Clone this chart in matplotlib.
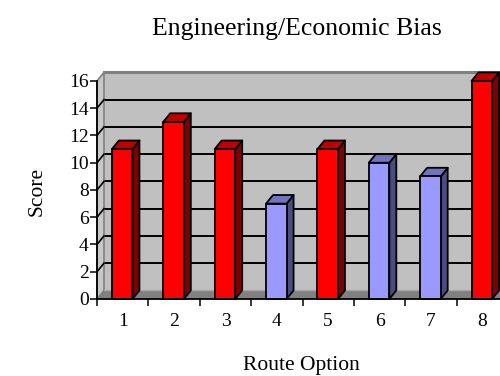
import matplotlib
matplotlib.use("Agg")
import matplotlib.pyplot as plt
from matplotlib.patches import Polygon

# Chart data
route_options = ["1", "2", "3", "4", "5", "6", "7", "8"]
scores = [11, 13, 11, 7, 11, 10, 9, 16]
bias_group = ["eng", "eng", "eng", "econ", "eng", "econ", "econ", "eng"]
y_ticks = [0, 2, 4, 6, 8, 10, 12, 14, 16]

# colour sets: (front, side, top)
palette = {
    "eng": ("#FF0000", "#800000", "#C00000"),
    "econ": ("#9999FF", "#4C4C80", "#7373C0"),
}

plt.rcParams["font.family"] = ["Liberation Serif", "DejaVu Serif"]

fig = plt.figure(figsize=(5.0, 3.76), dpi=100)
ax = fig.add_axes([0.194, 0.2048, 0.822, 0.5798])
ymax = 16
ax.set_xlim(0, len(scores))
ax.set_ylim(0, ymax)

# 3-D depth offsets in data units
dx = 0.136
dy = 0.63
n = len(scores)
edge = "black"

# back wall
ax.add_patch(Polygon([(dx, dy), (n + dx, dy), (n + dx, ymax + dy), (dx, ymax + dy)],
                     closed=True, facecolor="#C0C0C0", edgecolor="none",
                     zorder=1, clip_on=False))
# wall gridlines
for v in y_ticks[1:-1]:
    ax.plot([dx, n + dx], [v + dy, v + dy], color="black", lw=1.4,
            zorder=2, clip_on=False, solid_capstyle="butt")
    ax.plot([0, dx], [v, v + dy], color="black", lw=1.2,
            zorder=4, clip_on=False)
# wall top edge
ax.plot([dx, n + dx], [ymax + dy, ymax + dy], color="#808080", lw=2.2,
        zorder=2, clip_on=False)
# side wall
ax.add_patch(Polygon([(0, 0), (dx, dy), (dx, ymax + dy), (0, ymax)],
                     closed=True, facecolor="#C8C8C8", edgecolor="#808080",
                     lw=1.2, zorder=3, clip_on=False))
# floor
ax.add_patch(Polygon([(0, 0), (n, 0), (n + dx, dy), (dx, dy)],
                     closed=True, facecolor="#808080", edgecolor="none",
                     zorder=3, clip_on=False))
ax.plot([dx, n + dx], [dy, dy], color="#A8A8A8", lw=1.0, zorder=3, clip_on=False)

# bars
bar_left = 0.29
bar_w = 0.40
for i, (val, grp) in enumerate(zip(scores, bias_group)):
    front, side, top = palette[grp]
    x0 = i + bar_left
    x1 = x0 + bar_w
    z = 10 + i
    ax.add_patch(Polygon([(x1, 0), (x1 + dx, dy), (x1 + dx, val + dy), (x1, val)],
                         closed=True, facecolor=side, edgecolor=edge, lw=1.3,
                         zorder=z, clip_on=False, joinstyle="round"))
    ax.add_patch(Polygon([(x0, val), (x1, val), (x1 + dx, val + dy), (x0 + dx, val + dy)],
                         closed=True, facecolor=top, edgecolor=edge, lw=1.3,
                         zorder=z, clip_on=False, joinstyle="round"))
    ax.add_patch(Polygon([(x0, 0), (x1, 0), (x1, val), (x0, val)],
                         closed=True, facecolor=front, edgecolor=edge, lw=1.3,
                         zorder=z, clip_on=False, joinstyle="round"))

# axes styling
for s in ("top", "right"):
    ax.spines[s].set_visible(False)
for s in ("left", "bottom"):
    ax.spines[s].set_linewidth(1.3)
    ax.spines[s].set_zorder(30)
ax.set_facecolor("none")
ax.set_yticks(y_ticks)
ax.set_yticklabels([str(t) for t in y_ticks], fontsize=14)
ax.tick_params(axis="y", direction="out", length=5, width=1.1, pad=1)
ax.set_xticks(range(0, n + 1))
ax.set_xticklabels([""] * (n + 1))
ax.set_xticks([i + 0.5 for i in range(n)], minor=True)
ax.set_xticklabels(route_options, minor=True, fontsize=14)
ax.tick_params(axis="x", which="major", direction="out", length=5, width=1.1)
ax.tick_params(axis="x", which="minor", length=0, pad=10)

fig.text(0.594, 1 - 35 / 376, "Engineering/Economic Bias", ha="center",
         va="baseline", fontsize=18.5)
fig.text(0.602, 1 - 370 / 376, "Route Option", ha="center", va="baseline",
         fontsize=15.5)
fig.text(0.074, 1 - 191 / 376, "Score", ha="center", va="center", rotation=90,
         fontsize=15.5)

fig.savefig("out.png", dpi=100)
